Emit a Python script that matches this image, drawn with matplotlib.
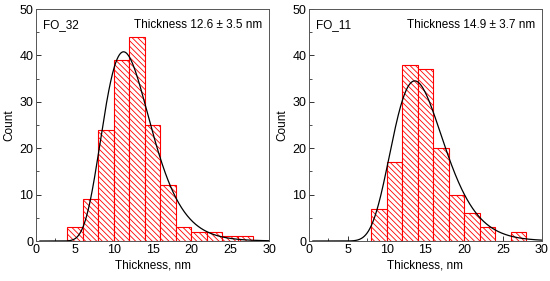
# Thickness histograms with lognormal fits (FO_32 / FO_11)

import numpy as np
import matplotlib.pyplot as plt
from matplotlib.ticker import MultipleLocator

plt.rcParams["font.family"] = ["Liberation Sans", "DejaVu Sans"]
plt.rcParams["hatch.color"] = "red"
plt.rcParams["hatch.linewidth"] = 0.6

# ---------------------------------------------------------
# data
# ---------------------------------------------------------

bin_edges_32 = [4, 6, 8, 10, 12, 14, 16, 18, 20, 22, 24, 26, 28]
counts_32 = [3, 9, 24, 39, 44, 25, 12, 3, 2, 2, 1, 1]

bin_edges_11 = [8, 10, 12, 14, 16, 18, 20, 22, 24, 26, 28]
counts_11 = [7, 17, 38, 37, 20, 10, 6, 3, 0, 2]

# lognormal fit parameters (mean, sd in nm, area scale)
fit_32 = dict(mean=12.6, sd=3.5, area=326)
fit_11 = dict(mean=14.9, sd=3.7, area=297)

labels = ["FO_32", "FO_11"]
notes = ["Thickness 12.6 \u00b1 3.5 nm", "Thickness 14.9 \u00b1 3.7 nm"]


def lognorm_curve(x, mean, sd, area):
    s2 = np.log(1 + (sd / mean) ** 2)
    mu = np.log(mean) - s2 / 2
    return area / (x * np.sqrt(2 * np.pi * s2)) * np.exp(-(np.log(x) - mu) ** 2 / (2 * s2))


fig = plt.figure(figsize=(5.5, 2.81), dpi=100)

panels = [
    (0.0655, bin_edges_32, counts_32, fit_32),
    (0.5618, bin_edges_11, counts_11, fit_11),
]

for i, (left, edges, counts, fit) in enumerate(panels):
    ax = fig.add_axes([left, 0.1423, 0.4236, 0.8256])

    edges = np.array(edges, dtype=float)
    ax.bar(edges[:-1], counts, width=np.diff(edges), align="edge",
           facecolor="white", edgecolor="red", linewidth=0.8,
           hatch="\\\\\\\\\\\\", zorder=2)

    x = np.linspace(0.5, 30, 500)
    ax.plot(x, lognorm_curve(x, **fit), color="black", linewidth=0.9, zorder=3)

    ax.set_xlim(0, 30)
    ax.set_ylim(0, 50)
    ax.xaxis.set_major_locator(MultipleLocator(5))
    ax.xaxis.set_minor_locator(MultipleLocator(2.5))
    ax.yaxis.set_major_locator(MultipleLocator(10))
    ax.yaxis.set_minor_locator(MultipleLocator(5))
    ax.tick_params(which="both", direction="in", top=False, right=False,
                   labelsize=9, pad=2, colors="#333333", labelcolor="black")
    ax.tick_params(which="major", length=3.5, width=0.7)
    ax.tick_params(which="minor", length=2, width=0.6)

    for sp in ax.spines.values():
        sp.set_color("#555555")
        sp.set_linewidth(0.7)

    ax.set_xlabel("Thickness, nm", fontsize=8.5, labelpad=3)
    ax.set_ylabel("Count", fontsize=8.5, labelpad=3)

    ax.text(0.03, 0.955, labels[i], transform=ax.transAxes,
            fontsize=8.5, va="top", ha="left")
    ax.text(0.97, 0.955, notes[i], transform=ax.transAxes,
            fontsize=8.5, va="top", ha="right")

fig.savefig("out.png", dpi=100)
